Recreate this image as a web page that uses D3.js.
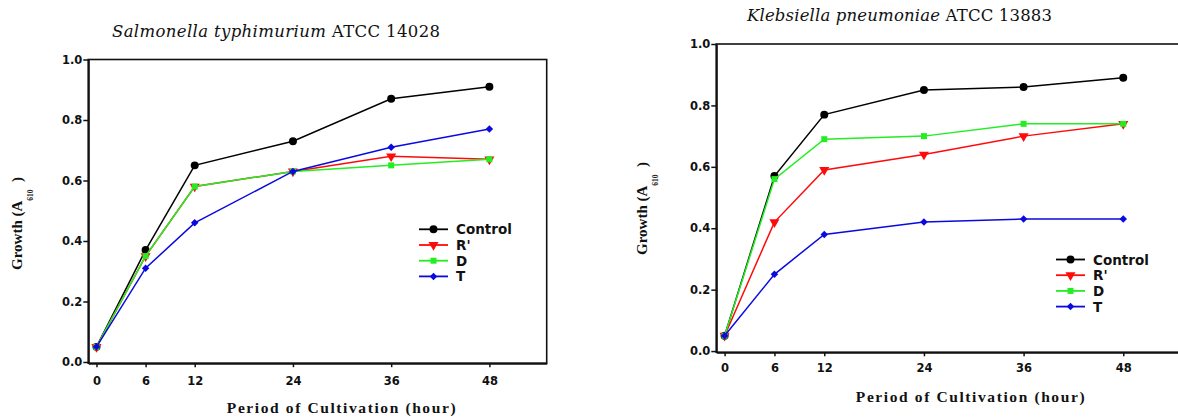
<!DOCTYPE html>
<html>
<head>
<meta charset="utf-8">
<script src="https://cdnjs.cloudflare.com/ajax/libs/d3/7.8.5/d3.min.js"></script>
<style>
  body { margin: 0; background: #fff; }
  .tick text { font-family: "DejaVu Sans", sans-serif; font-weight: bold; font-size: 11.5px; fill: #111; }
  .legend text { font-family: "DejaVu Sans", sans-serif; font-weight: bold; font-size: 13.5px; fill: #111; }
</style>
</head>
<body>
<div class="chart"></div>
<script>
// data
var hours = [0, 6, 12, 24, 36, 48];
var yTicks = [0, 0.2, 0.4, 0.6, 0.8, 1.0];
var seriesNames = ["Control", "R'", "D", "T"];
var seriesColors = ["#000000", "#ff0a0a", "#22ee22", "#0a0ae0"];

var salControl = [0.05, 0.37, 0.65, 0.73, 0.87, 0.91];
var salR = [0.05, 0.35, 0.58, 0.63, 0.68, 0.67];
var salD = [0.05, 0.35, 0.58, 0.63, 0.65, 0.67];
var salT = [0.05, 0.31, 0.46, 0.63, 0.71, 0.77];

var klebControl = [0.05, 0.57, 0.77, 0.85, 0.86, 0.89];
var klebR = [0.05, 0.42, 0.59, 0.64, 0.70, 0.74];
var klebD = [0.05, 0.56, 0.69, 0.70, 0.74, 0.74];
var klebT = [0.05, 0.25, 0.38, 0.42, 0.43, 0.43];

var svg = d3.select(".chart")
  .append("svg")
  .attr("width", 1178)
  .attr("height", 420);

// marker shapes per series
var markers = [
  { type: d3.symbolCircle, size: 50, rot: 0 },
  { type: d3.symbolTriangle, size: 44, rot: 180 },
  { type: d3.symbolSquare, size: 36, rot: 0 },
  { type: d3.symbolSquare, size: 28, rot: 45 }
];

var panels = [
  {
    species: "Salmonella typhimurium", strain: "ATCC 14028",
    titleX: 112, titleY: 36.5, titleW: 328,
    left: 88.3, right: 546.7, top: 59.5, bottom: 363.2, xPad: 10,
    yLabX: 22, yLabY: 270,
    xLabX: 342, xLabY: 413,
    legX: 419, legY: 229.3,
    values: [salControl, salR, salD, salT]
  },
  {
    species: "Klebsiella pneumoniae", strain: "ATCC 13883",
    titleX: 747, titleY: 20.7, titleW: 305,
    left: 716.3, right: 1181.4, top: 44, bottom: 352.3, xPad: 8,
    yLabX: 647, yLabY: 255,
    xLabX: 971, xLabY: 402,
    legX: 1056, legY: 259.5,
    values: [klebControl, klebR, klebD, klebT]
  }
];

panels.forEach(function(p) {
  var x = d3.scaleLinear().domain([-1, 55]).range([p.left, p.right]);
  var y = d3.scaleLinear().domain([-0.004, 1]).range([p.bottom, p.top]);

  var g = svg.append("g");

  // frame (top and right sides)
  g.append("rect")
    .attr("x", p.left).attr("y", p.top)
    .attr("width", p.right - p.left).attr("height", p.bottom - p.top)
    .attr("fill", "none").attr("stroke", "#111").attr("stroke-width", 1.6);

  var leftAxis = d3.axisLeft(y)
    .tickValues(yTicks)
    .tickFormat(d3.format(".1f"))
    .tickSize(5).tickSizeOuter(0).tickPadding(1);

  var bottomAxis = d3.axisBottom(x)
    .tickValues(hours)
    .tickSize(4).tickSizeOuter(0).tickPadding(p.xPad);

  var ya = g.append("g")
    .attr("transform", `translate(${p.left}, 0)`)
    .call(leftAxis);
  var xa = g.append("g")
    .attr("transform", `translate(0, ${p.bottom})`)
    .call(bottomAxis);
  [ya, xa].forEach(function(a) {
    a.select(".domain").attr("stroke", "#111").attr("stroke-width", 2);
    a.selectAll(".tick line").attr("stroke", "#111").attr("stroke-width", 1.5);
    a.selectAll("text").attr("font-family", null).attr("font-size", null);
  });

  // series lines + markers
  var line = d3.line()
    .x(function(d, i) { return x(hours[i]); })
    .y(function(d) { return y(d); });

  p.values.forEach(function(vals, s) {
    g.append("path")
      .datum(vals)
      .attr("d", line)
      .attr("fill", "none")
      .attr("stroke", seriesColors[s])
      .attr("stroke-width", 1.5);

    g.selectAll(null)
      .data(vals)
      .enter()
      .append("path")
      .attr("d", d3.symbol().type(markers[s].type).size(markers[s].size))
      .attr("transform", function(d, i) {
        return `translate(${x(hours[i])}, ${y(d)}) rotate(${markers[s].rot})`;
      })
      .attr("fill", seriesColors[s]);
  });

  // legend
  var legend = g.append("g").attr("class", "legend");
  seriesNames.forEach(function(name, s) {
    var ly = p.legY + s * 15.7;
    legend.append("line")
      .attr("x1", p.legX).attr("x2", p.legX + 29)
      .attr("y1", ly).attr("y2", ly)
      .attr("stroke", seriesColors[s]).attr("stroke-width", 1.8);
    legend.append("path")
      .attr("d", d3.symbol().type(markers[s].type).size(markers[s].size))
      .attr("transform", `translate(${p.legX + 14.5}, ${ly}) rotate(${markers[s].rot})`)
      .attr("fill", seriesColors[s]);
    legend.append("text")
      .attr("x", p.legX + 37)
      .attr("y", ly + 5)
      .text(name);
  });

  // title
  var title = svg.append("text")
    .attr("x", p.titleX).attr("y", p.titleY)
    .attr("font-family", "DejaVu Serif, serif")
    .attr("font-size", 16.5)
    .attr("fill", "#111")
    .attr("textLength", p.titleW)
    .attr("lengthAdjust", "spacing");
  title.append("tspan").attr("font-style", "italic").text(p.species);
  title.append("tspan").text("  " + p.strain);

  // y axis label
  var ylab = svg.append("text")
    .attr("transform", `translate(${p.yLabX}, ${p.yLabY}) rotate(-90)`)
    .attr("font-family", "Liberation Serif, serif")
    .attr("font-weight", "bold")
    .attr("font-size", 15)
    .attr("fill", "#111");
  ylab.append("tspan").text("Growth (A");
  ylab.append("tspan").attr("font-size", 7.5).attr("dy", 11).text("610");
  ylab.append("tspan").attr("dy", -11).text("\u00a0\u00a0)");

  // x axis label
  svg.append("text")
    .attr("x", p.xLabX).attr("y", p.xLabY)
    .attr("text-anchor", "middle")
    .attr("font-family", "Liberation Serif, serif")
    .attr("font-weight", "bold")
    .attr("font-size", 15.5)
    .attr("letter-spacing", 1.6)
    .attr("fill", "#111")
    .text("Period of Cultivation (hour)");
});
</script>
</body>
</html>
